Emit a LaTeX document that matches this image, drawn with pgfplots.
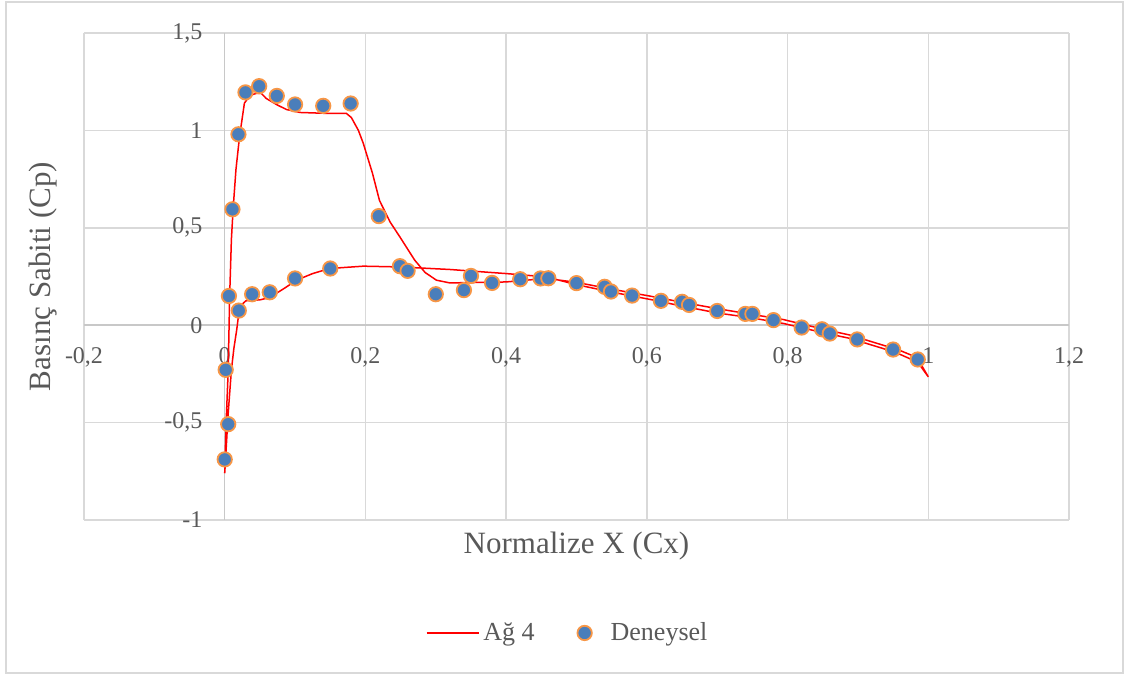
\documentclass[border=0pt]{standalone}
\usepackage{fontspec}
\setmainfont{Liberation Serif}
\usepackage{pgfplots}
\pgfplotsset{compat=1.18}
\definecolor{gridgray}{HTML}{D9D9D9}
\definecolor{axisgray}{HTML}{C8C8C8}
\definecolor{txtgray}{HTML}{595959}
\definecolor{mblue}{HTML}{4A7EBB}
\definecolor{morange}{HTML}{F79646}
\pgfplotsset{
  shortline legend/.style={legend image code/.code={\draw[##1] (0pt,0pt) -- (26pt,0pt);}},
  dot legend/.style={legend image code/.code={\path[draw=none, fill=none] (-4pt,-0.1pt) rectangle (11pt,0.1pt);
      \draw[##1] plot coordinates {(0pt,0pt)};}},
}

\begin{document}
\begin{tikzpicture}
\useasboundingbox (-42pt,-79.5pt) rectangle (523.5pt,260pt);
\draw[gridgray, line width=0.75pt] (-39pt,-76.5pt) rectangle (519.5pt,259pt);
\begin{axis}[
  at={(0,0)}, anchor=south west,
  scale only axis, width=492.5pt, height=243.5pt,
  xmin=-0.2, xmax=1.2, ymin=-1, ymax=1.5,
  axis lines=middle,
  axis line style={-, axisgray, line width=0.75pt},
  hide obscured x ticks=false, hide obscured y ticks=false,
  xtick={-0.2,0,0.2,0.4,0.6,0.8,1,1.2},
  xticklabels={{-0,2},{0},{0,2},{0,4},{0,6},{0,8},{1},{1,2}},
  ytick={-1,-0.5,0,0.5,1,1.5},
  yticklabels={{-1},{-0,5},{0},{0,5},{1},{1,5}},
  major tick length=0pt,
  grid=major,
  major grid style={gridgray, line width=0.75pt},
  tick label style={font=\fontsize{12}{14}\selectfont, text=txtgray},
  xticklabel style={anchor=north, inner sep=0pt, yshift=-11pt},
  yticklabel style={anchor=east, inner sep=0pt, xshift=-11pt},
  xlabel={Normalize X (Cx)},
  xlabel style={at={(axis description cs:0.5,-0.0534)}, anchor=center,
    font=\fontsize{15.5}{18}\selectfont, text=txtgray},
  ylabel={Basınç Sabiti (Cp)},
  ylabel style={at={(axis description cs:-0.0416,0.5)}, anchor=center, rotate=90,
    font=\fontsize{15.5}{18}\selectfont, text=txtgray},
  legend style={at={(axis description cs:0.492,-0.232)}, anchor=center,
    draw=none, fill=none, legend columns=2,
    font=\fontsize{13}{15}\selectfont, text=txtgray,
    /tikz/every even column/.append style={column sep=19pt}},
  legend cell align=left,
  clip=false,
]

% Ag 4: computed Cp around the section (lower branch from TE to LE, then upper branch back to TE)
\addplot[red, line width=0.75pt, shortline legend]
coordinates {
  (1.0,-0.265) (0.985,-0.19) (0.96,-0.15) (0.936,-0.12) (0.889,-0.068)
  (0.85,-0.038) (0.794,0.009) (0.75,0.037) (0.7,0.063) (0.65,0.098)
  (0.605,0.132) (0.55,0.17) (0.5,0.208) (0.457,0.248) (0.40,0.265)
  (0.32,0.286) (0.249,0.299) (0.197,0.303) (0.149,0.291) (0.125,0.265)
  (0.102,0.231) (0.085,0.19) (0.064,0.142) (0.05,0.13) (0.04,0.128)
  (0.03,0.125) (0.024,0.105) (0.02,0.06) (0.017,-0.025) (0.013,-0.12)
  (0.0095,-0.23) (0.005,-0.45) (0.001,-0.70) (0.0,-0.76)
  (0.002,-0.5) (0.005,-0.23) (0.007,0.145) (0.0095,0.44) (0.012,0.6)
  (0.016,0.8) (0.021,0.966) (0.028,1.14) (0.036,1.18) (0.045,1.19)
  (0.052,1.19) (0.059,1.164) (0.075,1.13) (0.088,1.107) (0.107,1.092)
  (0.14,1.088) (0.173,1.087) (0.18,1.066) (0.19,1.0) (0.197,0.933)
  (0.21,0.78) (0.22,0.64) (0.235,0.53) (0.249,0.453) (0.27,0.334)
  (0.285,0.27) (0.301,0.231) (0.32,0.217) (0.4,0.222) (0.457,0.240)
  (0.5,0.22) (0.55,0.185) (0.605,0.149) (0.65,0.118) (0.7,0.085)
  (0.75,0.055) (0.794,0.029) (0.85,-0.02) (0.889,-0.051) (0.936,-0.103)
  (0.96,-0.13) (0.984,-0.166) (1.0,-0.265)
};
\addlegendentry{Ağ 4}

% Deneysel: measured Cp
\addplot[only marks, mark=*, mark size=3.6pt,
  mark options={fill=mblue, draw=morange, line width=0.9pt}, dot legend]
coordinates {
  (0.000,-0.689) (0.005,-0.508) (0.0014,-0.229) (0.006,0.150) (0.020,0.075)
  (0.011,0.595) (0.0195,0.980) (0.0295,1.195) (0.049,1.227) (0.074,1.177)
  (0.100,1.133) (0.140,1.126) (0.179,1.138) (0.219,0.560)
  (0.039,0.159) (0.064,0.169) (0.100,0.240) (0.150,0.291)
  (0.249,0.303) (0.260,0.279) (0.300,0.159) (0.340,0.180) (0.350,0.253)
  (0.380,0.217) (0.420,0.236) (0.449,0.240) (0.460,0.241) (0.500,0.216)
  (0.540,0.197) (0.549,0.173) (0.579,0.152) (0.620,0.125) (0.650,0.120)
  (0.660,0.104) (0.700,0.073) (0.740,0.058) (0.750,0.058) (0.780,0.026)
  (0.820,-0.012) (0.849,-0.021) (0.860,-0.043) (0.899,-0.073)
  (0.950,-0.125) (0.985,-0.176)
};
\addlegendentry{Deneysel}
\end{axis}
\end{tikzpicture}
\end{document}
